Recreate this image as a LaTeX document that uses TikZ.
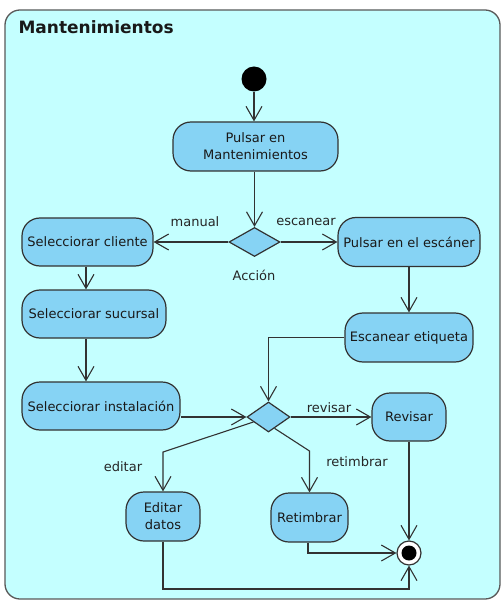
\documentclass[tikz,border=0pt]{standalone}
\usepackage{fontspec}
\setmainfont{DejaVu Sans}
\usetikzlibrary{arrows.meta, calc, shapes.geometric}
\definecolor{fondo}{RGB}{196,255,255}
\definecolor{relleno}{RGB}{134,211,244}
\definecolor{borde}{RGB}{50,50,50}
\tikzset{
  actividad/.style = {draw=borde, fill=relleno, rounded corners=18pt, line width=1.2pt,
                      align=center, inner sep=0pt, text=black!90,
                      font=\fontsize{13}{17}\selectfont},
  decision/.style  = {diamond, draw=borde, fill=relleno, line width=1.2pt, inner sep=0pt},
  flujo/.style     = {-{Straight Barb[length=14pt, width=16pt]}, borde, line width=1.1pt},
  etiq/.style      = {text=black!85, font=\fontsize{13}{16}\selectfont}
}

\begin{document}
\begin{tikzpicture}[x=1pt, y=-1pt]
  \useasboundingbox (0,0) rectangle (502,601);

  % marco
  \draw[draw=black!65, fill=fondo, line width=1.3pt, rounded corners=15pt] (5,10) rectangle (500,599);
  \node[anchor=base west, font=\fontsize{17}{20}\selectfont\bfseries, text=black!90] (titulo) at (15,34) {Mantenimientos};

  % nodos
  \node[circle, fill=black, minimum size=25pt, inner sep=0pt] (inicio) at (254,79) {};
  \node[actividad, minimum width=165pt, minimum height=49pt] (pulsar) at (255.5,146.5) {Pulsar en\\Mantenimientos};
  \node[decision, minimum width=51pt, minimum height=29pt] (accion) at (254.5,242) {};
  \node[etiq] (accionlbl) at (254,275) {Acción};
  \node[actividad, minimum width=131pt, minimum height=48pt] (cliente) at (87.5,242) {Selecciorar cliente};
  \node[actividad, minimum width=142pt, minimum height=49pt] (escaner) at (409,242) {Pulsar en el escáner};
  \node[actividad, minimum width=144pt, minimum height=48pt] (sucursal) at (94,314) {Selecciorar sucursal};
  \node[actividad, minimum width=158pt, minimum height=48pt] (instalacion) at (101,406) {Selecciorar instalación};
  \node[actividad, minimum width=128pt, minimum height=49pt] (etiqueta) at (409,337.5) {Escanear etiqueta};
  \node[decision, minimum width=43pt, minimum height=30pt] (opcion) at (268.5,417) {};
  \node[actividad, minimum width=74pt, minimum height=48pt] (revisar) at (409,417) {Revisar};
  \node[actividad, minimum width=77pt, minimum height=49pt] (retimbrar) at (309.5,517.5) {Retimbrar};
  \node[actividad, minimum width=74pt, minimum height=49pt] (editar) at (163,516.5) {Editar\\datos};
  \node[circle, draw=borde, fill=white, line width=1.2pt, minimum size=24pt, inner sep=0pt] (fin) at (409,553) {};
  \fill[black] (fin.center) circle (7.5);

  \coordinate (rtcodo) at (309.5,451);
  \coordinate (edcodo) at (163,452);
  \coordinate (abajo) at (409,589);

  % etiquetas de flujo
  \node[etiq] (manuallbl) at (195,222) {manual};
  \node[etiq] (escanearlbl) at (306,222) {escanear};
  \node[etiq] (revisarlbl) at (329,408) {revisar};
  \node[etiq] (retimbrarlbl) at (357,462) {retimbrar};
  \node[etiq] (editarlbl) at (123,467) {editar};

  % flujos
  \draw[flujo] (inicio) -- (inicio |- pulsar.north);
  \draw[flujo] (pulsar.south -| accion.north) -- (accion.north);
  \draw[flujo] (accion.west) -- (cliente.east);
  \draw[flujo] (accion.east) -- (escaner.west);
  \draw[flujo] ([xshift=-1.5pt]cliente.south) -- ([xshift=-1.5pt]cliente.south |- sucursal.north);
  \draw[flujo] ([xshift=-1.5pt]sucursal.south -| cliente.south) -- ([xshift=-1.5pt]instalacion.north -| cliente.south);
  \draw[flujo] (escaner.south) -- (etiqueta.north);
  \draw[flujo] (etiqueta.west) -| (opcion.north);
  \draw[flujo] (instalacion.east |- opcion.west) -- (opcion.west);
  \draw[flujo] (opcion.east) -- (revisar.west);
  \draw[flujo] (opcion.-62) -- (rtcodo) -- (retimbrar.north);
  \draw[flujo] (opcion) -- (edcodo) -- (editar.north);
  \draw[flujo] (revisar.south) -- (fin.north);
  \draw[flujo] ([xshift=-1.5pt]retimbrar.south) |- (fin.west);
  \draw[flujo] (editar.south) |- (abajo) -- (fin.south);
\end{tikzpicture}
\end{document}
